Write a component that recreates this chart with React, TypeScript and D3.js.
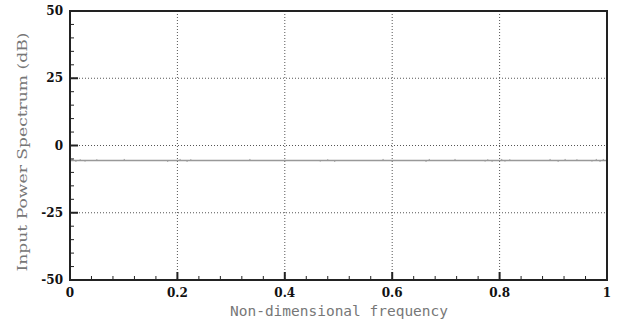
import React from "react";
import * as d3 from "d3";

const xTicks = [0, 0.2, 0.4, 0.6, 0.8, 1];
const xTickLabels = ["0", "0.2", "0.4", "0.6", "0.8", "1"];
const yTicks = [50, 25, 0, -25, -50];
const yTickLabels = ["50", "25", "0", "-25", "-50"];
const xMinor = [0.04, 0.08, 0.12, 0.16, 0.24, 0.28, 0.32, 0.36, 0.44, 0.48, 0.52, 0.56, 0.64, 0.68, 0.72, 0.76, 0.84, 0.88, 0.92, 0.96];
const yMinor = [45, 40, 35, 30, 20, 15, 10, 5, -5, -10, -15, -20, -30, -35, -40, -45];

// input spectrum: flat level with small blips
const baseLevel = -5.6;
const spectrumFreq = [0, 1];
const spectrumLevel = [-5.6, -5.6];
const blipFreq = [0.004, 0.011, 0.019, 0.028, 0.05, 0.101, 0.182, 0.205, 0.218, 0.225, 0.335, 0.466, 0.48, 0.493, 0.583, 0.663, 0.669, 0.717, 0.773, 0.778, 0.786, 0.804, 0.81, 0.819, 0.894, 0.909, 0.922, 0.944, 0.972, 0.98, 0.987, 0.993];
const blipLevel = [-5.0, -6.1, -5.1, -6.0, -5.1, -5.0, -6.1, -5.0, -6.1, -5.1, -5.0, -6.0, -5.1, -6.1, -5.0, -6.1, -5.0, -5.0, -6.0, -5.1, -6.1, -5.0, -6.0, -5.1, -5.0, -6.1, -5.0, -5.1, -6.0, -5.0, -6.1, -5.0];

export default function App() {
  const W = 634, H = 325;
  const L = 70, R = 607, T = 11, B = 280;
  const x = d3.scaleLinear().domain([0, 1]).range([L, R]);
  const y = d3.scaleLinear().domain([-50, 50]).range([B, T]);
  const line = d3.line<number>().x((d, i) => x(spectrumFreq[i])).y((d) => y(d));
  const axisColor = "#222";
  const tickFont = "'DejaVu Serif', serif";
  return (
    <svg width={W} height={H} style={{ position: "absolute", left: 0, top: 0, background: "#fff" }}>
      {/* grid */}
      {xTicks.slice(1, -1).map((t) => (
        <line key={"gx" + t} x1={x(t)} x2={x(t)} y1={T} y2={B} stroke="#555" strokeWidth={1} strokeDasharray="1,2" />
      ))}
      {yTicks.slice(1, -1).map((t) => (
        <line key={"gy" + t} x1={L} x2={R} y1={y(t)} y2={y(t)} stroke="#555" strokeWidth={1} strokeDasharray="1,2" />
      ))}
      {/* spectrum */}
      <path d={line(spectrumLevel) || ""} fill="none" stroke="#999" strokeWidth={1.6} />
      {blipFreq.map((f, i) => (
        <line key={"b" + i} x1={x(f)} x2={x(f)} y1={y(baseLevel)} y2={y(blipLevel[i])} stroke="#999" strokeWidth={1} />
      ))}
      {/* minor ticks */}
      {xMinor.map((t) => (
        <line key={"mx" + t} x1={x(t)} x2={x(t)} y1={B} y2={B - 4} stroke={axisColor} strokeWidth={1} />
      ))}
      {yMinor.map((t) => (
        <line key={"my" + t} x1={L} x2={L + 4} y1={y(t)} y2={y(t)} stroke={axisColor} strokeWidth={1} />
      ))}
      {/* major ticks */}
      {xTicks.map((t) => (
        <line key={"tx" + t} x1={x(t)} x2={x(t)} y1={B} y2={B - 8} stroke={axisColor} strokeWidth={2} />
      ))}
      {yTicks.map((t) => (
        <line key={"ty" + t} x1={L} x2={L + 8} y1={y(t)} y2={y(t)} stroke={axisColor} strokeWidth={2} />
      ))}
      {/* frame */}
      <rect x={L} y={T} width={R - L} height={B - T} fill="none" stroke={axisColor} strokeWidth={2} />
      {/* tick labels */}
      {xTicks.map((t, i) => (
        <text key={"lx" + t} x={x(t)} y={297} textAnchor="middle" fontFamily={tickFont} fontWeight="bold" fontSize={12} fill="#111">
          {xTickLabels[i]}
        </text>
      ))}
      {yTicks.map((t, i) => (
        <text key={"ly" + t} x={63} y={y(t) + 4} textAnchor="end" fontFamily={tickFont} fontWeight="bold" fontSize={12} fill="#111">
          {yTickLabels[i]}
        </text>
      ))}
      {/* axis titles */}
      <text x={339} y={316} textAnchor="middle" fontFamily="'DejaVu Sans Mono', monospace" fontSize={14} fill="#777" textLength={218} lengthAdjust="spacingAndGlyphs">
        Non-dimensional frequency
      </text>
      <text transform="translate(27,152) rotate(-90)" textAnchor="middle" fontFamily="'DejaVu Serif', serif" fontSize={13} fill="#777" textLength={239} lengthAdjust="spacingAndGlyphs">
        Input Power Spectrum (dB)
      </text>
    </svg>
  );
}
